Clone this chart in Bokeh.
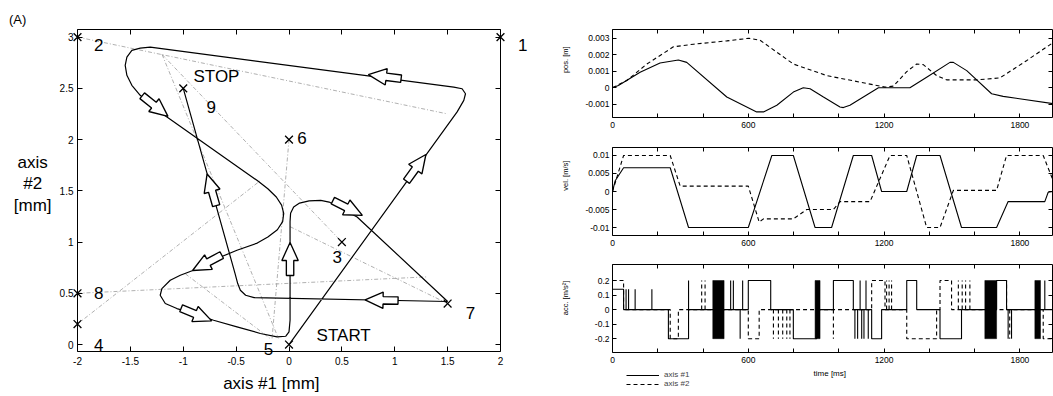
import math
from bokeh.plotting import figure
from bokeh.models import (FixedTicker, LinearAxis, Label, Range1d, Legend,
                          LegendItem, CustomJSTickFormatter)
from bokeh.layouts import row, column
from bokeh.embed import file_html
from bokeh.resources import INLINE

FONT = "Liberation Sans"

# ---------------- (A) path in the plane ----------------
waypoint_x = [2, -2, 0.5, -2, 0, 0, 1.5, -2, -1]
waypoint_y = [3, 3, 1, 0.2, 0, 2, 0.4, 0.5, 2.5]
waypoint_names = ["1", "2", "3", "4", "5", "6", "7", "8", "9"]
name_x = [2.21, -1.80, 0.456, -1.80, -0.193, 0.122, 1.715, -1.80, -0.735]
name_y = [2.92, 2.92, 0.85, -0.005, -0.039, 2.012, 0.306, 0.50, 2.315]

path_x = [0.0, 1.59, 1.653, 1.669, 1.637, 1.558, -1.312, -1.407, -1.486, -1.533,
          -1.549, -1.533, -1.486, -1.407, -1.281, -1.154, -0.30, -0.20, -0.12,
          -0.07, -0.05, -0.06, -0.11, -0.20, -0.30, -0.492, -0.681, -0.903,
          -1.028, -1.123, -1.202, -1.218, -1.170, -1.060, -0.903, -0.713, -0.492,
          -0.271, -0.113, -0.03, 0.0, 0.01, 0.01, 0.015, 0.044, 0.10, 0.19, 0.30,
          0.38, 0.644, 1.5, -0.33, -0.41, -0.46, -0.485, -0.51, -1.0]
path_y = [0.0, 2.27, 2.382, 2.447, 2.496, 2.512, 2.902, 2.892, 2.870, 2.804,
          2.724, 2.627, 2.529, 2.432, 2.318, 2.22, 1.60, 1.52, 1.44,
          1.36, 1.28, 1.20, 1.12, 1.05, 0.99, 0.920, 0.839, 0.725,
          0.676, 0.627, 0.546, 0.481, 0.400, 0.351, 0.303, 0.237, 0.172,
          0.108, 0.074, 0.081, 0.123, 0.237, 1.20, 1.28, 1.342, 1.38, 1.402, 1.407,
          1.39, 1.245, 0.42, 0.458, 0.481, 0.530, 0.595, 0.692, 2.5]

guide_x0 = [-2, -1.2, -1.2, 0, -2, -2, 0.01, -0.98]
guide_y0 = [3, 2.83, 2.83, 2, 0.2, 0.5, 1.15, 0.69]
guide_x1 = [1.5, 0.5, -0.1, -0.16, -0.27, 1.3, 1.5, -0.18]
guide_y1 = [2.25, 1.0, 0.06, 0.06, 1.6, 0.66, 0.4, 0.06]

arrow_x = [0.91, -1.27, -0.73, -0.77, -0.88, 0.01, 0.55, 0.88, 1.20]
arrow_y = [2.613, 2.33, 1.505, 0.80, 0.294, 0.83, 1.334, 0.432, 1.72]
arrow_deg = [173, -38.7, 106, -152, -22.5, 90, -26.6, 179, 54]

# ---------------- time histories ----------------
pos_t1 = [0, 26, 122, 210, 291, 328, 505, 637, 667, 726, 799, 843, 873, 932, 1005,
          1020, 1049, 1175, 1314, 1388, 1491, 1506, 1565, 1675, 1726, 1947]
pos_1 = [0, 0.00014, 0.00094, 0.0015, 0.00168, 0.00154, -0.00056, -0.00146, -0.00146,
         -0.00106, -0.00026, 0, -0.00006, -0.00056, -0.00116, -0.0012, -0.00106, 0, 0,
         0.00064, 0.00154, 0.00154, 0.00104, -0.00036, -0.00052, -0.00096]
pos_t2 = [0, 63, 152, 269, 358, 505, 603, 652, 799, 946, 1094, 1204, 1241, 1300, 1344,
          1373, 1432, 1476, 1609, 1712, 1829, 1947]
pos_2 = [0, 0.00044, 0.00144, 0.00248, 0.00264, 0.00284, 0.0030, 0.00288, 0.00144,
         0.00074, 0.00034, 0.00004, 0.0001, 0.00098, 0.00144, 0.0014, 0.00074, 0.00048,
         0.00048, 0.0006, 0.00164, 0.00274]

vel_t1 = [0, 12, 49, 255, 336, 600, 704, 799, 895, 968, 1064, 1145, 1189, 1300, 1344,
          1447, 1542, 1697, 1748, 1910, 1925, 1947]
vel_1 = [0, 0.003, 0.0066, 0.0066, -0.01, -0.01, 0.01, 0.01, -0.01, -0.01, 0.01, 0.01,
         0, 0, 0.01, 0.01, -0.01, -0.01, -0.0028, -0.0028, -0.0002, 0]
vel_t2 = [0, 49, 255, 299, 600, 648, 667, 799, 858, 976, 1005, 1138, 1226, 1300, 1388,
          1447, 1506, 1697, 1741, 1903, 1947]
vel_2 = [0, 0.01, 0.01, 0.0015, 0.0015, -0.0085, -0.0076, -0.0076, -0.005, -0.005,
         -0.0028, -0.0028, 0.01, 0.01, -0.01, -0.01, 0.0003, 0.0003, 0.01, 0.01, 0.003]

acc1_edges = [0, 49, 247, 336, 600, 699, 799, 902, 976, 1064, 1145, 1189, 1300, 1344,
              1447, 1542, 1697, 1741, 1944]
acc1_levels = [0.14, 0, -0.2, 0, 0.2, 0, -0.2, 0, 0.2, 0, -0.2, 0, 0.2, 0, -0.2, 0, 0.2, 0]
acc1_spike_t = [60, 71, 100, 174, 336, 522, 534, 564, 575, 1071, 1083, 1094, 1101, 1111,
                1120, 1130, 1748, 1763, 1910]
acc1_spike_v = [0.14, 0.14, 0.14, 0.14, 0.2, 0.2, 0.2, -0.2, 0.2, -0.2, -0.2, 0.2, -0.2,
                -0.2, 0.2, -0.2, -0.2, -0.2, 0.2]
acc1_burst_t0 = [443, 895, 1645, 1866]
acc1_burst_t1 = [493, 917, 1697, 1891]

acc2_edges = [0, 49, 255, 291, 600, 648, 1145, 1204, 1300, 1432, 1447, 1498, 1903, 1944]
acc2_levels = [0.2, 0, -0.2, 0, -0.2, 0, 0.2, 0, -0.2, 0, 0.2, 0, -0.2]
acc2_spike_t = [394, 409, 711, 733, 752, 770, 784, 976, 1211, 1222, 1233, 1528, 1545,
                1560, 1579, 1741, 1755]
acc2_spike_v = [0.2, 0.2, -0.2, -0.2, -0.2, -0.2, -0.2, -0.2, 0.2, 0.2, 0.2, 0.2, 0.2,
                0.2, 0.2, 0.2, -0.2]

t_major = [0, 600, 1200, 1800]
t_major_labels = ["0", "600", "1200", "1800"]
t_minor = [200, 400, 800, 1000, 1400, 1600]
pos_ticks = [-0.001, 0, 0.001, 0.002, 0.003]
pos_labels = ["-0.001", "0", "0.001", "0.002", "0.003"]
vel_ticks = [-0.01, -0.005, 0, 0.005, 0.01]
vel_labels = ["-0.01", "-0.005", "0", "0.005", "0.01"]
acc_ticks = [-0.2, -0.1, 0, 0.1, 0.2]
acc_labels = ["-0.2", "-0.1", "0", "0.1", "0.2"]
ax1_ticks = [-2, -1.5, -1, -0.5, 0, 0.5, 1, 1.5, 2]
ax1_labels = ["-2", "-1.5", "-1", "-0.5", "0", "0.5", "1", "1.5", "2"]
ax2_ticks = [0, 0.5, 1, 1.5, 2, 2.5, 3]
ax2_labels = ["0", "0.5", "1", "1.5", "2", "2.5", "3"]


def make_fig(W, H, box, xr, yr):
    """Figure whose frame fills the canvas; the boxed axes are drawn at fixed
    data locations so that outer texts stay inside the drawable area."""
    bl, br, bt, bb = box
    x0, x1 = xr
    y0, y1 = yr
    sx = (br - bl) / (x1 - x0)
    sy = (bb - bt) / (y1 - y0)
    p = figure(width=W, height=H, output_backend="svg", toolbar_location=None,
               x_range=Range1d(x0 - bl / sx, x1 + (W - br) / sx),
               y_range=Range1d(y0 - (H - bb) / sy, y1 + bt / sy),
               x_axis_location=None, y_axis_location=None, min_border=0)
    p.xgrid.visible = False
    p.ygrid.visible = False
    p.outline_line_color = None
    p.background_fill_color = "white"
    p.border_fill_color = "white"
    return p, sx, sy


def add_box_axes(p, xr, yr, xticks, xlabels, xminor, yticks, ylabels, font_size,
                 xstand, ystand, tick):
    xt = FixedTicker(ticks=xticks, minor_ticks=xminor)
    yt = FixedTicker(ticks=yticks, minor_ticks=[])
    specs = [("below", xt, yr[0], xr, xticks, xlabels, xstand),
             ("above", xt, yr[1], xr, None, None, 0),
             ("left", yt, xr[0], yr, yticks, ylabels, ystand),
             ("right", yt, xr[1], yr, None, None, 0)]
    for side, ticker, loc, bounds, ticks, labels, stand in specs:
        ax = LinearAxis(ticker=ticker, fixed_location=loc, bounds=bounds)
        ax.axis_line_color = "black"
        ax.axis_line_width = 1
        ax.major_tick_in = tick
        ax.major_tick_out = 0
        ax.minor_tick_in = tick
        ax.minor_tick_out = 0
        ax.major_tick_line_color = "black"
        ax.minor_tick_line_color = "black"
        ax.major_label_text_font = FONT
        ax.major_label_text_color = "black"
        ax.major_label_standoff = stand
        if ticks is None:
            ax.formatter = CustomJSTickFormatter(code="return ''")
            ax.major_label_text_font_size = "1px"
        else:
            ax.major_label_overrides = {float(k): v for k, v in zip(ticks, labels)}
            ax.major_label_text_font_size = font_size
        p.add_layout(ax, side)


def text(p, x, y, s, size, angle=0.0, align="center"):
    p.add_layout(Label(x=x, y=y, text=s, angle=angle, text_align=align,
                       text_baseline="middle", text_font=FONT, text_font_size=size,
                       text_color="black"))


# ---------------- left figure ----------------
XR = (-2, 2)
YR = (-0.068, 3.074)
left, SX, SY = make_fig(560, 396, (77, 500, 29, 351), XR, YR)
add_box_axes(left, XR, YR, ax1_ticks, ax1_labels, [], ax2_ticks, ax2_labels, "10px", 5, 4, 5)

left.segment(x0=guide_x0, y0=guide_y0, x1=guide_x1, y1=guide_y1, line_color="#959595",
             line_width=0.75, line_dash="4 2 1 2")
left.line(path_x, path_y, line_color="black", line_width=1.2)

# block arrows, shaped in screen pixels and mapped back to data units
shape = [(-16, -3.7), (-1, -3.7), (-1, -8.2), (17, 0), (-1, 8.2), (-1, 3.7), (-16, 3.7)]
axs, ays = [], []
for cx, cy, deg in zip(arrow_x, arrow_y, arrow_deg):
    a = math.radians(deg)
    ca, sa = math.cos(a), math.sin(a)
    axs.append([cx + (u * ca - v * sa) / SX for u, v in shape])
    ays.append([cy + (u * sa + v * ca) / SY for u, v in shape])
left.patches(axs, ays, fill_color="white", line_color="black", line_width=1.35)

left.scatter(waypoint_x, waypoint_y, marker="x", size=11, line_color="black", line_width=1.3)

for nx, ny, nm in zip(name_x, name_y, waypoint_names):
    text(left, nx, ny, nm, "17px")
text(left, -0.686, 2.617, "STOP", "17px")
text(left, 0.517, 0.091, "START", "17px")
text(left, -0.167, -0.38, "axis #1 [mm]", "17px")
for ty, tt in [(1.78, "axis"), (1.57, "#2"), (1.36, "[mm]")]:
    text(left, -2.424, ty, tt, "17px")
text(left, -2.566, 3.172, "(A)", "13px")

# ---------------- right figures ----------------
TR = (0, 1944)
TL = -209  # x position of rotated y labels (ms)


def step_path(edges, levels):
    xs, ys = [], []
    for i, v in enumerate(levels):
        xs.extend([edges[i], edges[i + 1]])
        ys.extend([v, v])
    return xs, ys


POS_R = (-0.0018, 0.00353)
p1, _, _ = make_fig(493, 133, (52, 492, 29, 117), TR, POS_R)
add_box_axes(p1, TR, POS_R, t_major, t_major_labels, t_minor, pos_ticks, pos_labels,
             "8.5px", 4, 3, 4)
p1.line(pos_t1, pos_1, line_color="black", line_width=1.1)
p1.line(pos_t2, pos_2, line_color="black", line_width=1.1, line_dash="4 3")
text(p1, TL, 0.0017, "pos. [m]", "7.5px", angle=math.pi / 2)

VEL_R = (-0.01222, 0.01222)
p2, _, _ = make_fig(493, 117, (52, 492, 14, 102), TR, VEL_R)
add_box_axes(p2, TR, VEL_R, t_major, t_major_labels, t_minor, vel_ticks, vel_labels,
             "8.5px", 4, 3, 4)
p2.line(vel_t1, vel_1, line_color="black", line_width=1.1)
p2.line(vel_t2, vel_2, line_color="black", line_width=1.1, line_dash="4 3")
text(p2, TL, 0.0044, "vel. [m/s]", "7.5px", angle=math.pi / 2)

ACC_R = (-0.295, 0.31)
p3, _, _ = make_fig(493, 146, (52, 492, 14, 102), TR, ACC_R)
add_box_axes(p3, TR, ACC_R, t_major, t_major_labels, t_minor, acc_ticks, acc_labels,
             "8.5px", 4, 3, 4)
p3.quad(left=acc1_burst_t0, right=acc1_burst_t1, bottom=-0.2, top=0.2, fill_color="black",
        line_color="black", line_width=0.5)
r2 = p3.line(*step_path(acc2_edges, acc2_levels), line_color="black", line_width=1.1,
             line_dash="4 3")
p3.segment(x0=acc2_spike_t, y0=0, x1=acc2_spike_t, y1=acc2_spike_v, line_color="black",
           line_width=1.1, line_dash="4 3")
r1 = p3.line(*step_path(acc1_edges, acc1_levels), line_color="black", line_width=1.1)
p3.segment(x0=acc1_spike_t, y0=0, x1=acc1_spike_t, y1=acc1_spike_v, line_color="black",
           line_width=1.1)
text(p3, TL, 0.08, "acc. [m/s²]", "7.5px", angle=math.pi / 2)
text(p3, 960, -0.44, "time [ms]", "8px")
legend = Legend(items=[LegendItem(label="axis #1", renderers=[r1]),
                       LegendItem(label="axis #2", renderers=[r2])],
                location=(66, 8), orientation="vertical", background_fill_alpha=0,
                border_line_color=None, padding=0, margin=0, spacing=0, glyph_width=33,
                glyph_height=8, label_height=8, label_text_font=FONT,
                label_text_font_size="8px", label_standoff=5)
p3.add_layout(legend)

layout = row(left, column(p1, p2, p3))
open("out.html", "w").write(file_html(layout, INLINE))
